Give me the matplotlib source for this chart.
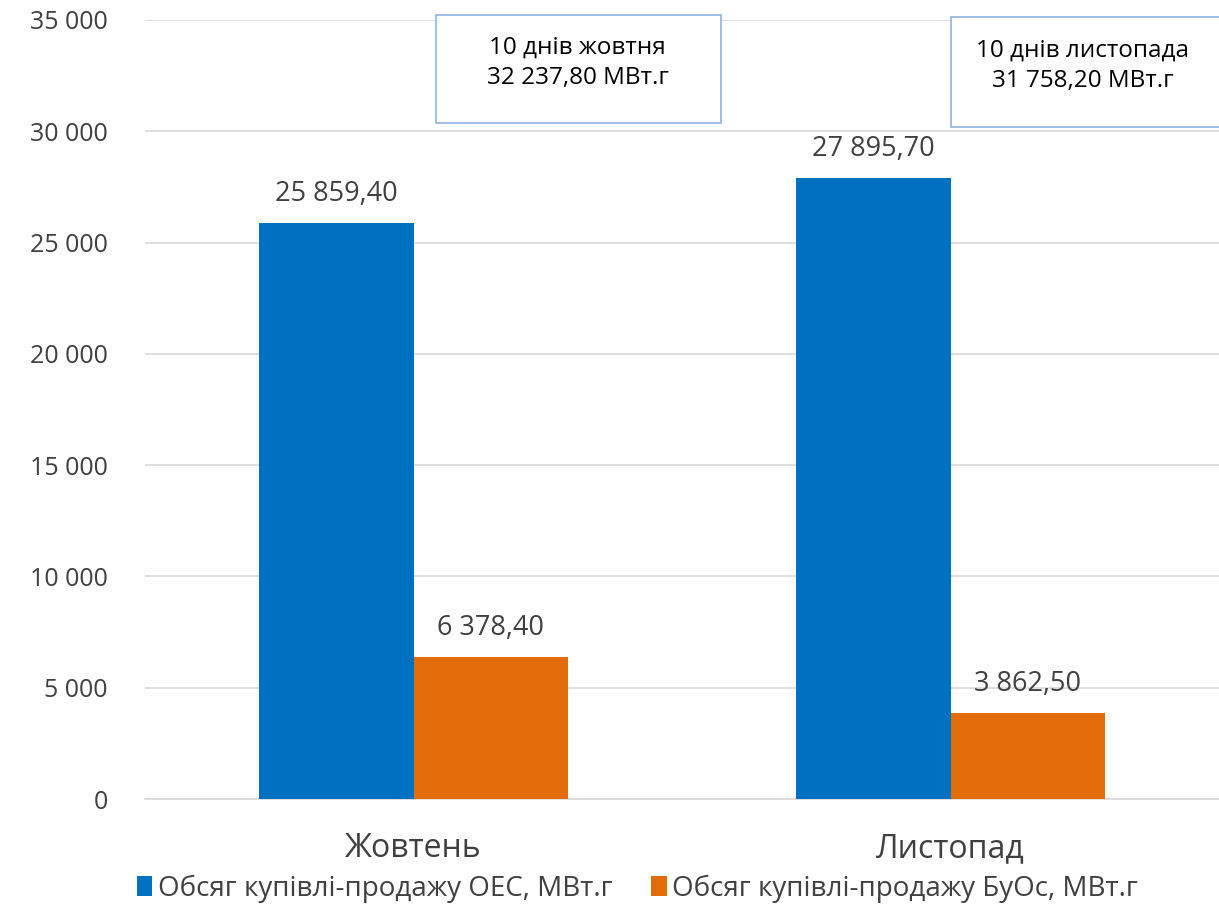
#!/usr/bin/env python

# matplotlib
import matplotlib
matplotlib.use("Agg")
import matplotlib.pyplot as plt
from matplotlib.patches import Rectangle
from matplotlib.ticker import FuncFormatter
import numpy as np

"""
---------- Data ----------
"""
months = ["Жовтень", "Листопад"]
oes_values = [25859.40, 27895.70]
buos_values = [6378.40, 3862.50]
series_names = ["Обсяг купівлі-продажу ОЕС, МВт.г",
                "Обсяг купівлі-продажу БуОс, МВт.г"]
box_texts = ["10 днів жовтня\n32 237,80 МВт.г",
             "10 днів листопада\n31 758,20 МВт.г"]
y_ticks = [0, 5000, 10000, 15000, 20000, 25000, 30000, 35000]

"""
---------- Helpers ----------
"""
def ua_number(v, decimals=0):
    # thousand separator = space, decimal separator = comma
    s = "{:,.{d}f}".format(v, d=decimals)
    return s.replace(",", " ").replace(".", ",")

"""
---------- Plot ----------
"""
plt.rcParams["font.family"] = ["Open Sans", "DejaVu Sans"]
text_gray = "#404040"
blue = "#0070C0"
orange = "#E36C0A"

fig = plt.figure(figsize=(12.19, 9.08), dpi=100)
ax = fig.add_axes([0.119, 0.120, 0.881, 0.858])

x = np.arange(len(months))
w = 0.287
b1 = ax.bar(x - w / 2, oes_values, w, color=blue, label=series_names[0], zorder=3)
b2 = ax.bar(x + w / 2, buos_values, w, color=orange, label=series_names[1], zorder=3)

for bars, vals in [(b1, oes_values), (b2, buos_values)]:
    for rect, v in zip(bars, vals):
        ax.annotate(ua_number(v, 2),
                    (rect.get_x() + rect.get_width() / 2, rect.get_height()),
                    xytext=(0, 11), textcoords="offset points",
                    ha="center", va="bottom", fontsize=19.5, color=text_gray)

ax.set_xlim(-0.5, 1.5)
ax.set_ylim(0, 35000)
ax.set_yticks(y_ticks)
ax.yaxis.set_major_formatter(FuncFormatter(lambda v, p: ua_number(v)))
ax.set_xticks(x)
ax.set_xticklabels(months, fontsize=23, color=text_gray)
ax.tick_params(axis="y", labelsize=18, labelcolor=text_gray, length=0, pad=27)
ax.tick_params(axis="x", length=0, pad=24)
ax.grid(axis="y", color="#D9D9D9", linewidth=1.2, zorder=0)
for s in ["top", "right", "left"]:
    ax.spines[s].set_visible(False)
ax.spines["bottom"].set_color("#D9D9D9")
ax.spines["bottom"].set_linewidth(1.2)

# legend at the bottom
leg = fig.legend(loc="lower center", bbox_to_anchor=(0.523, -0.022), ncol=2,
                 frameon=False, fontsize=20, handlelength=0.55, handleheight=0.75,
                 handletextpad=0.2, columnspacing=1.4, labelcolor=text_gray)

# text boxes with totals
boxes = [(0.3577, 0.8645, 0.2338, 0.119, 0.474, 0.9306),
         (0.7801, 0.8601, 0.2400, 0.121, 0.888, 0.928)]
for (bx, by, bw, bh, tx, ty), txt in zip(boxes, box_texts):
    fig.patches.append(Rectangle((bx, by), bw, bh, transform=fig.transFigure,
                                 facecolor="white", edgecolor="#8EB4E3",
                                 linewidth=1.2, zorder=5))
    fig.text(tx, ty, txt, ha="center", va="center", fontsize=17.5,
             color="black", linespacing=1.35, zorder=6)

fig.savefig("out.png", dpi=100)
